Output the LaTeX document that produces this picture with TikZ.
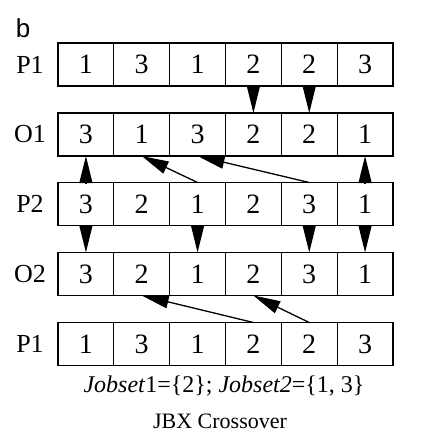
\documentclass[tikz,border=0pt]{standalone}
\usepackage{fontspec}
\setmainfont{Liberation Serif}
\newfontfamily\labsans{Liberation Sans}
\usetikzlibrary{arrows.meta}
\tikzset{
  cell/.style={draw,line width=1.3pt,minimum width=55.83pt,minimum height=43pt,inner sep=0pt,outer sep=0pt,font=\fontsize{28}{28}\selectfont},
  rowlab/.style={font=\fontsize{26}{26}\selectfont},
  arr/.style={line width=1.3pt,arrows={-Triangle[length=27pt,width=13pt]}}}
\begin{document}
\begin{tikzpicture}[x=1pt,y=-1pt]
\useasboundingbox (0,0) rectangle (444,442);
\node[font=\labsans\fontsize{26}{26}\selectfont] (b) at (23,28) {b};
\foreach \r/\yy/\lab/\vals in {1/64.5/P1/{1,3,1,2,2,3},2/134.5/O1/{3,1,3,2,2,1},3/204/P2/{3,2,1,2,3,1},4/274/O2/{3,2,1,2,3,1},5/344/P1/{1,3,1,2,2,3}}{
  \node[rowlab] (lab\r) at (30,\yy) {\lab};
  \foreach \v [count=\c] in \vals {
    \node[cell] (r\r c\c) at ({58+55.83*(\c-0.5)},\yy) {\v};
  }
}
% P1 -> O1
\draw[arr] (r1c4.south) -- (r2c4.north);
\draw[arr] (r1c5.south) -- (r2c5.north);
% P2 -> O1
\draw[arr] (r3c1.north) -- (r2c1.south);
\draw[arr] (r3c6.north) -- (r2c6.south);
\draw[arr] (r3c3.north) -- (r2c2.south);
\draw[arr] (r3c5.north) -- (r2c3.south);
% P2 -> O2
\draw[arr] (r3c1.south) -- (r4c1.north);
\draw[arr] (r3c3.south) -- (r4c3.north);
\draw[arr] (r3c5.south) -- (r4c5.north);
\draw[arr] (r3c6.south) -- (r4c6.north);
% P1 -> O2
\draw[arr] (r5c4.north) -- (r4c2.south);
\draw[arr] (r5c5.north) -- (r4c4.south);
\node[font=\fontsize{24}{24}\selectfont] (jobs) at (224,386) {\textit{Jobset}1=\{2\}; \textit{Jobset2}=\{1, 3\}};
\node[font=\fontsize{22}{22}\selectfont] (title) at (220,421) {JBX Crossover};
\end{tikzpicture}
\end{document}
